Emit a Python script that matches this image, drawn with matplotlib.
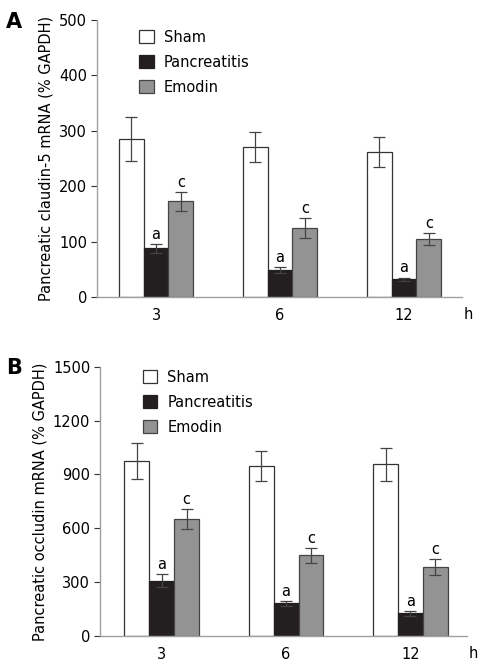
import numpy as np
import matplotlib.pyplot as plt

# -------- Data --------
hours = ['3', '6', '12']
groups = ['Sham', 'Pancreatitis', 'Emodin']

cldn5_mean = {'Sham': [285, 270, 262], 'Pancreatitis': [88, 49, 32], 'Emodin': [173, 124, 105]}
cldn5_err = {'Sham': [40, 27, 27], 'Pancreatitis': [8, 5, 3], 'Emodin': [17, 18, 11]}

occl_mean = {'Sham': [973, 948, 956], 'Pancreatitis': [308, 182, 126], 'Emodin': [650, 449, 386]}
occl_err = {'Sham': [100, 85, 92], 'Pancreatitis': [37, 13, 14], 'Emodin': [55, 40, 44]}

sig_labels = {'Pancreatitis': 'a', 'Emodin': 'c'}

# -------- Styles --------
fill = {'Sham': 'white', 'Pancreatitis': '#231f20', 'Emodin': '#939393'}
edge = {'Sham': '#333333', 'Pancreatitis': '#231f20', 'Emodin': '#444444'}
spine_col = '#a0a0a0'
fs = 10.5

fig = plt.figure(figsize=(4.92, 6.71), dpi=100)
axA = fig.add_axes([0.1972, 0.5574, 0.7413, 0.4128])
axB = fig.add_axes([0.2033, 0.0522, 0.7459, 0.4013])


def draw_panel(ax, means, errs, ymax, ystep, ylabel, xlim, pad, leg_y):
    x = np.arange(len(hours))
    w = 0.2
    offsets = {'Sham': -w, 'Pancreatitis': 0, 'Emodin': w}
    for g in groups:
        xs = x + offsets[g]
        ax.bar(xs, means[g], width=w, color=fill[g], edgecolor=edge[g], linewidth=0.9,
               label=g, zorder=2)
        ax.errorbar(xs, means[g], yerr=errs[g], fmt='none', ecolor='#444444', elinewidth=0.9,
                    capsize=4, capthick=0.9, zorder=3)
        if g in sig_labels:
            for xi, m, e in zip(xs, means[g], errs[g]):
                ax.text(xi, m + e + pad, sig_labels[g], ha='center', va='bottom', fontsize=fs)
    ax.set_xlim(*xlim)
    ax.set_ylim(0, ymax)
    ax.set_yticks(np.arange(0, ymax + 1, ystep))
    ax.set_xticks(x)
    ax.set_xticklabels(hours, fontsize=fs)
    ax.tick_params(axis='x', length=0, pad=8)
    ax.tick_params(axis='y', length=4, width=0.8, color='#333333', labelsize=fs, pad=3)
    for s in ['top', 'right']:
        ax.spines[s].set_visible(False)
    for s in ['left', 'bottom']:
        ax.spines[s].set_color(spine_col)
        ax.spines[s].set_linewidth(1.0)
    ax.set_ylabel(ylabel, fontsize=fs, labelpad=4)
    ax.text(1.005, -0.036, 'h', transform=ax.transAxes, ha='left', va='top', fontsize=fs)
    ax.legend(loc='upper left', bbox_to_anchor=(0.08, leg_y), frameon=False, fontsize=fs,
              handlelength=1.0, handleheight=1.0, handletextpad=0.7, labelspacing=0.69)


draw_panel(axA, cldn5_mean, cldn5_err, 500, 100, 'Pancreatic claudin-5 mRNA (% GAPDH)',
           (-0.476, 2.465), 4, 1.012)
draw_panel(axB, occl_mean, occl_err, 1500, 300, 'Pancreatic occludin mRNA (% GAPDH)',
           (-0.496, 2.455), 12, 1.038)

fig.text(0.012, 0.967, 'A', fontsize=15, fontweight='bold', va='center')
fig.text(0.012, 0.451, 'B', fontsize=15, fontweight='bold', va='center')

plt.savefig('out.png', dpi=100)
